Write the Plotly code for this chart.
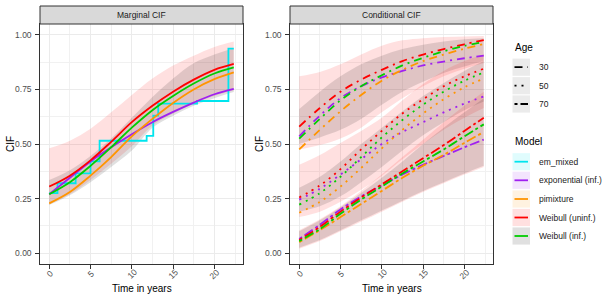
import plotly.graph_objects as go

# ---------------- data ----------------
T = [0, 2.5, 5, 7.5, 10, 12.5, 15, 17.5, 20, 22.35]
MODELS = ["em_mixed", "exponential (inf.)", "pimixture", "Weibull (uninf.)", "Weibull (inf.)"]
AGES = ["30", "50", "70"]
X_TICKS = [0, 5, 10, 15, 20]
Y_TICKS = [0, 0.25, 0.5, 0.75, 1.0]
Y_TICKTEXT = ["0.00", "0.25", "0.50", "0.75", "1.00"]

# Marginal CIF
EM_T = [0, 1.0, 3.2, 5.0, 6.1, 11.8, 12.6, 13.2, 17.9, 21.7, 22.35]
EM_CIF = [0.275, 0.32, 0.365, 0.42, 0.515, 0.537, 0.63, 0.685, 0.697, 0.937, 0.937]
M_EXP = [0.27, 0.345, 0.42, 0.485, 0.545, 0.60, 0.647, 0.69, 0.728, 0.753]
M_PIM = [0.228, 0.28, 0.355, 0.44, 0.535, 0.615, 0.688, 0.75, 0.797, 0.828]
M_WUN = [0.305, 0.355, 0.425, 0.51, 0.60, 0.675, 0.74, 0.795, 0.84, 0.867]
M_WIN = [0.27, 0.325, 0.40, 0.485, 0.575, 0.655, 0.72, 0.777, 0.823, 0.851]
M_WUN_LO = [0.225, 0.27, 0.335, 0.41, 0.49, 0.585, 0.64, 0.685, 0.72, 0.745]
M_WUN_UP = [0.48, 0.515, 0.57, 0.645, 0.725, 0.80, 0.86, 0.905, 0.945, 0.97]
M_WIN_LO = [0.22, 0.265, 0.325, 0.395, 0.47, 0.575, 0.63, 0.675, 0.71, 0.738]
M_WIN_UP = [0.335, 0.38, 0.445, 0.525, 0.62, 0.715, 0.80, 0.87, 0.91, 0.94]

# Conditional CIF, by age
C_EXP = {"30": [0.535, 0.63, 0.71, 0.765, 0.805, 0.835, 0.86, 0.878, 0.893, 0.905],
         "50": [0.245, 0.295, 0.36, 0.43, 0.50, 0.555, 0.60, 0.645, 0.685, 0.718],
         "70": [0.065, 0.13, 0.20, 0.26, 0.31, 0.36, 0.405, 0.445, 0.485, 0.52]}
C_PIM = {"30": [0.475, 0.565, 0.65, 0.725, 0.79, 0.84, 0.88, 0.91, 0.937, 0.958],
         "50": [0.185, 0.235, 0.305, 0.39, 0.48, 0.565, 0.64, 0.705, 0.76, 0.80],
         "70": [0.05, 0.105, 0.165, 0.225, 0.285, 0.345, 0.40, 0.45, 0.505, 0.555]}
C_WUN = {"30": [0.58, 0.665, 0.74, 0.795, 0.84, 0.88, 0.91, 0.935, 0.957, 0.976],
         "50": [0.255, 0.31, 0.385, 0.475, 0.56, 0.64, 0.705, 0.765, 0.81, 0.845],
         "70": [0.06, 0.12, 0.19, 0.255, 0.315, 0.375, 0.435, 0.495, 0.56, 0.62]}
C_WIN = {"30": [0.525, 0.615, 0.70, 0.765, 0.815, 0.86, 0.895, 0.925, 0.95, 0.968],
         "50": [0.222, 0.275, 0.35, 0.44, 0.53, 0.61, 0.68, 0.74, 0.79, 0.828],
         "70": [0.055, 0.11, 0.18, 0.245, 0.305, 0.365, 0.42, 0.475, 0.535, 0.59]}
C_WUN_LO = {"30": [0.475, 0.495, 0.525, 0.575, 0.645, 0.71, 0.765, 0.81, 0.845, 0.87],
            "50": [0.165, 0.19, 0.235, 0.29, 0.355, 0.43, 0.50, 0.565, 0.62, 0.665],
            "70": [0.02, 0.055, 0.10, 0.145, 0.19, 0.235, 0.28, 0.32, 0.36, 0.395]}
C_WUN_UP = {"30": [0.81, 0.83, 0.865, 0.91, 0.95, 0.975, 0.985, 0.99, 0.993, 0.995],
            "50": [0.405, 0.45, 0.505, 0.56, 0.62, 0.70, 0.775, 0.835, 0.88, 0.91],
            "70": [0.105, 0.155, 0.215, 0.285, 0.36, 0.44, 0.52, 0.60, 0.675, 0.74]}
C_WIN_LO = {"30": [0.50, 0.53, 0.565, 0.615, 0.68, 0.74, 0.785, 0.825, 0.855, 0.88],
            "50": [0.19, 0.215, 0.26, 0.325, 0.395, 0.47, 0.54, 0.60, 0.655, 0.695],
            "70": [0.025, 0.06, 0.105, 0.15, 0.195, 0.24, 0.285, 0.325, 0.365, 0.40]}
C_WIN_UP = {"30": [0.66, 0.74, 0.81, 0.865, 0.905, 0.935, 0.955, 0.97, 0.98, 0.985],
            "50": [0.30, 0.35, 0.42, 0.50, 0.575, 0.65, 0.72, 0.78, 0.835, 0.88],
            "70": [0.10, 0.15, 0.21, 0.275, 0.345, 0.42, 0.50, 0.575, 0.645, 0.71]}

# ---------------- styles ----------------
COL = {"em_mixed": "#00E5EE", "exponential (inf.)": "#A020F0", "pimixture": "#FF9500",
       "Weibull (uninf.)": "#FF0000", "Weibull (inf.)": "#00CD00"}
FILL = {"em_mixed": "rgba(0,229,238,0.12)", "exponential (inf.)": "rgba(160,32,240,0.12)",
        "pimixture": "rgba(255,149,0,0.12)", "Weibull (uninf.)": "rgba(255,0,0,0.12)",
        "Weibull (inf.)": "rgba(0,0,0,0.12)"}
DASH = {"30": "8px,5px,2px,5px", "50": "2px,5px", "70": "3px,3px,10px,3px"}
LW = 1.8
FONT = "Liberation Sans, Arial, sans-serif"

W, H = 611, 301
ML, MR, MT, MB = 40, 118, 24, 37
PW = W - ML - MR
PH = H - MT - MB


def px(xp):
    return (xp - ML) / PW


def py(yp):
    return (H - MB - yp) / PH


fig = go.Figure()


def ribbon(xa, ya, lo, up, color):
    fig.add_trace(go.Scatter(x=T, y=lo, xaxis=xa, yaxis=ya, mode="lines",
                             line=dict(width=0, shape="spline"), showlegend=False, hoverinfo="skip"))
    fig.add_trace(go.Scatter(x=T, y=up, xaxis=xa, yaxis=ya, mode="lines",
                             line=dict(width=0, shape="spline"), fill="tonexty", fillcolor=color,
                             showlegend=False, hoverinfo="skip"))


def line(xa, ya, x, y, color, dash="solid", shape="spline"):
    fig.add_trace(go.Scatter(x=x, y=y, xaxis=xa, yaxis=ya, mode="lines",
                             line=dict(width=LW, color=color, dash=dash, shape=shape),
                             showlegend=False, hoverinfo="skip"))


# Marginal panel
ribbon("x", "y", M_WUN_LO, M_WUN_UP, FILL["Weibull (uninf.)"])
ribbon("x", "y", M_WIN_LO, M_WIN_UP, FILL["Weibull (inf.)"])
line("x", "y", EM_T, EM_CIF, COL["em_mixed"], shape="hv")
line("x", "y", T, M_EXP, COL["exponential (inf.)"])
line("x", "y", T, M_PIM, COL["pimixture"])
line("x", "y", T, M_WUN, COL["Weibull (uninf.)"])
line("x", "y", T, M_WIN, COL["Weibull (inf.)"])

# Conditional panel
for a in AGES:
    ribbon("x2", "y2", C_WUN_LO[a], C_WUN_UP[a], FILL["Weibull (uninf.)"])
    ribbon("x2", "y2", C_WIN_LO[a], C_WIN_UP[a], FILL["Weibull (inf.)"])
for a in AGES:
    line("x2", "y2", T, C_EXP[a], COL["exponential (inf.)"], DASH[a])
    line("x2", "y2", T, C_PIM[a], COL["pimixture"], DASH[a])
    line("x2", "y2", T, C_WUN[a], COL["Weibull (uninf.)"], DASH[a])
    line("x2", "y2", T, C_WIN[a], COL["Weibull (inf.)"], DASH[a])

XR = [-1.1175, 23.4675]
YR = [-0.05, 1.05]
common_x = dict(range=XR, tickvals=X_TICKS, showticklabels=False, ticks="outside", ticklen=3.7,
                tickcolor="#333333", tickwidth=1, showgrid=True, gridcolor="#EBEBEB", gridwidth=1,
                minor=dict(dtick=2.5, tick0=0, showgrid=True, gridcolor="#F1F1F1", gridwidth=0.6),
                showline=True, mirror=True, linecolor="#333333", linewidth=1, zeroline=False,
                fixedrange=True)
common_y = dict(range=YR, tickvals=Y_TICKS, ticktext=Y_TICKTEXT, ticks="outside", ticklen=3.7,
                tickcolor="#333333", tickwidth=1, ticklabelstandoff=2,
                tickfont=dict(family=FONT, size=8.5, color="#4D4D4D"),
                showgrid=True, gridcolor="#EBEBEB", gridwidth=1,
                minor=dict(dtick=0.25, tick0=0.125, showgrid=True, gridcolor="#F1F1F1", gridwidth=0.6),
                showline=True, mirror=True, linecolor="#333333", linewidth=1, zeroline=False,
                fixedrange=True)

fig.update_layout(
    width=W, height=H, autosize=False,
    margin=dict(l=ML, r=MR, t=MT, b=MB, pad=0),
    paper_bgcolor="white", plot_bgcolor="white", showlegend=False,
    font=dict(family=FONT, color="#1A1A1A"),
    xaxis=dict(domain=[0, px(243)], anchor="y", **common_x),
    yaxis=dict(domain=[0, 1], anchor="x", **common_y),
    xaxis2=dict(domain=[px(290), 1], anchor="y2", **common_x),
    yaxis2=dict(domain=[0, 1], anchor="x2", **common_y),
)

shapes = []
ann = []

# strips
for (x0, x1, label) in [(40, 243, "Marginal CIF"), (290, 493, "Conditional CIF")]:
    shapes.append(dict(type="rect", xref="paper", yref="paper", x0=px(x0), x1=px(x1),
                       y0=py(24), y1=py(6), fillcolor="#D9D9D9",
                       line=dict(color="#333333", width=1), layer="above"))
    ann.append(dict(xref="paper", yref="paper", x=px((x0 + x1) / 2), y=py(15), text=label,
                    showarrow=False, font=dict(family=FONT, size=8.5, color="#1A1A1A"),
                    xanchor="center", yanchor="middle"))

# x tick labels (rotated, centred under ticks) and axis titles
for xa, cx, cyx in [("x", 141.5, 10), ("x2", 391.5, 259)]:
    for v in X_TICKS:
        ann.append(dict(xref=xa, yref="paper", x=v, y=py(273.5), text=str(v), textangle=-45,
                        showarrow=False, font=dict(family=FONT, size=8.5, color="#4D4D4D"),
                        xanchor="center", yanchor="middle"))
    ann.append(dict(xref="paper", yref="paper", x=px(cx), y=py(288), text="Time in years",
                    showarrow=False, font=dict(family=FONT, size=10, color="#000000"),
                    xanchor="center", yanchor="middle"))
    ann.append(dict(xref="paper", yref="paper", x=px(cyx), y=py(144), text="CIF", textangle=-90,
                    showarrow=False, font=dict(family=FONT, size=10, color="#000000"),
                    xanchor="center", yanchor="middle"))

# legend: Age
KX0, KX1 = 512.5, 530
LX0, LX1 = 514.5, 528
ann.append(dict(xref="paper", yref="paper", x=px(512.5), y=py(47), text="Age", showarrow=False,
                font=dict(family=FONT, size=10, color="#000000"), xanchor="left", yanchor="middle"))
for a, yc in zip(AGES, [67.2, 85.7, 104.0]):
    shapes.append(dict(type="rect", xref="paper", yref="paper", x0=px(KX0), x1=px(KX1),
                       y0=py(yc + 8.6), y1=py(yc - 8.6), fillcolor="#EBEBEB", line=dict(width=0)))
    shapes.append(dict(type="line", xref="paper", yref="paper", x0=px(LX0), x1=px(LX1),
                       y0=py(yc), y1=py(yc), line=dict(color="#000000", width=LW, dash=DASH[a])))
    ann.append(dict(xref="paper", yref="paper", x=px(537), y=py(yc), text=a, showarrow=False,
                    font=dict(family=FONT, size=8.5, color="#1A1A1A"), xanchor="left", yanchor="middle"))

# legend: Model
ann.append(dict(xref="paper", yref="paper", x=px(512.5), y=py(141.7), text="Model", showarrow=False,
                font=dict(family=FONT, size=10, color="#000000"), xanchor="left", yanchor="middle"))
for m, yc in zip(MODELS, [161.7, 180.3, 199.0, 217.5, 236.0]):
    shapes.append(dict(type="rect", xref="paper", yref="paper", x0=px(KX0), x1=px(KX1),
                       y0=py(yc + 8.6), y1=py(yc - 8.6), fillcolor=FILL[m], line=dict(width=0)))
    shapes.append(dict(type="line", xref="paper", yref="paper", x0=px(LX0), x1=px(LX1),
                       y0=py(yc), y1=py(yc), line=dict(color=COL[m], width=LW)))
    ann.append(dict(xref="paper", yref="paper", x=px(537), y=py(yc), text=m, showarrow=False,
                    font=dict(family=FONT, size=8.5, color="#1A1A1A"), xanchor="left", yanchor="middle"))

fig.update_layout(shapes=shapes, annotations=ann)
fig.write_html("out.html", config={"displayModeBar": False},
               post_script="document.body.style.margin='0px';document.body.style.overflow='hidden';")
